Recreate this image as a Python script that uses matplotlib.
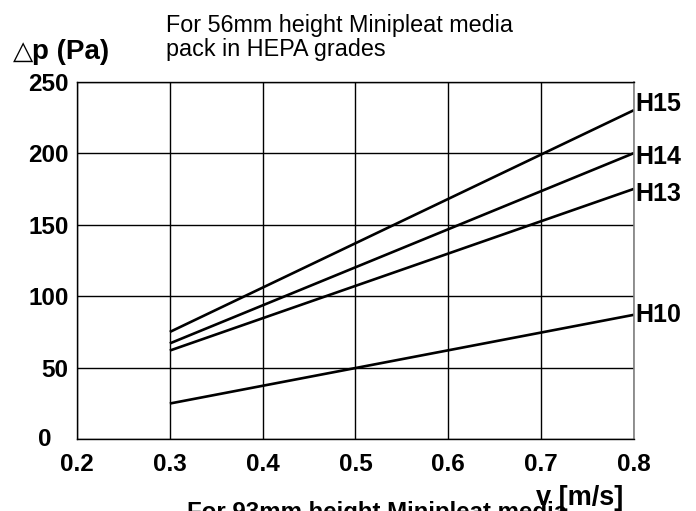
import matplotlib
matplotlib.use('Agg')
import matplotlib.pyplot as plt

plt.rcParams['font.family'] = ['Liberation Sans', 'DejaVu Sans']

# air velocity v [m/s] at the two ends of each curve
velocity = [0.3, 0.8]

# pressure drop (Pa) per HEPA grade
grades = ['H15', 'H14', 'H13', 'H10']
dp_h15 = [75, 230]
dp_h14 = [67, 200]
dp_h13 = [62, 175]
dp_h10 = [25, 87]

x_ticks = [0.2, 0.3, 0.4, 0.5, 0.6, 0.7, 0.8]
y_ticks = [0, 50, 100, 150, 200, 250]

fig = plt.figure(figsize=(6.96, 5.11), dpi=100)
ax = fig.add_axes([0.1106, 0.1403, 0.8003, 0.7002])

series = [dp_h15, dp_h14, dp_h13, dp_h10]
# small vertical shift of the grade labels, in points
label_shift = [4.5, -3, -4, 0]
for name, dp, shift in zip(grades, series, label_shift):
    ax.plot(velocity, dp, color='black', lw=1.9, solid_capstyle='butt')
    ax.annotate(name, xy=(velocity[-1], dp[-1]), xytext=(1, shift),
                textcoords='offset points', ha='left', va='center',
                fontsize=18, fontweight='bold', annotation_clip=False)

ax.set_xlim(0.2, 0.8)
ax.set_ylim(0, 250)
ax.set_xticks(x_ticks)
ax.set_xticklabels(['%.1f' % t for t in x_ticks])
ax.set_yticks(y_ticks)
ax.set_yticklabels([''] + [str(t) for t in y_ticks[1:]])
ax.tick_params(length=0, labelsize=17.5)
ax.tick_params(axis='x', pad=10)
ax.tick_params(axis='y', pad=6)
for lab in ax.get_xticklabels() + ax.get_yticklabels():
    lab.set_fontweight('bold')

ax.grid(True, color='black', lw=1)
for side in ['left', 'bottom', 'top']:
    ax.spines[side].set_color('black')
    ax.spines[side].set_linewidth(1)
ax.spines['right'].set_color('#808080')
ax.spines['right'].set_linewidth(1.2)

# the zero label sits apart from the others
ax.text(-0.058, 0, '0', transform=ax.get_yaxis_transform(), ha='center',
        va='center', fontsize=17.5, fontweight='bold')

fig.text(13 / 696, 1 - 59 / 511, '\u25b3', ha='left', va='baseline',
         fontsize=19)
fig.text(32 / 696, 1 - 59 / 511, 'p (Pa)', ha='left', va='baseline',
         fontsize=20, fontweight='bold')
fig.text(166 / 696, 1 - 14 / 511,
         'For 56mm height Minipleat media\npack in HEPA grades',
         ha='left', va='top', fontsize=16.8, linespacing=1.05)
fig.text(187 / 696, 1 - 501 / 511, 'For 93mm height Minipleat media',
         ha='left', va='top', fontsize=17.3, fontweight='bold')
fig.text(536 / 696, 1 - 505 / 511, 'v [m/s]', ha='left', va='baseline',
         fontsize=19.5, fontweight='bold')

fig.savefig('out.png', dpi=100)
